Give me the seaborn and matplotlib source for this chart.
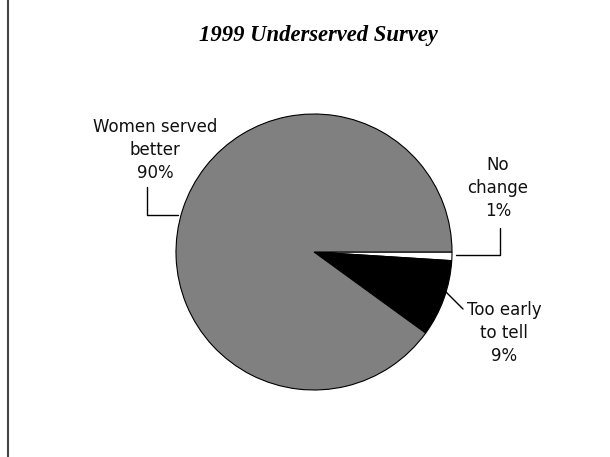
import matplotlib
matplotlib.use("Agg")
import matplotlib.pyplot as plt
import seaborn as sns

sns.set_theme(style="white")
plt.rcParams['font.family'] = ['DejaVu Sans']

# Survey responses, listed clockwise from 3 o'clock
categories = ["No\nchange", "Too early\nto tell", "Women served\nbetter"]
shares = [1, 9, 90]
colors = ["#ffffff", "#000000", "#808080"]

W, H = 610, 457
fig = plt.figure(figsize=(W / 100, H / 100), dpi=100)
ax = fig.add_axes([0, 0, 1, 1])

cx, cy, r = 314, H - 252, 138
ax.pie(shares, colors=colors, startangle=0, counterclock=False,
       center=(cx, cy), radius=r, frame=True,
       wedgeprops=dict(edgecolor="black", linewidth=0.8))
ax.set_xlim(0, W)
ax.set_ylim(0, H)
ax.set_aspect("equal")
ax.axis("off")

labels = [f"{c}\n{v}%" for c, v in zip(categories, shares)]
lab_font = dict(fontsize=12, ha="center", va="center", color="#111111",
                linespacing=1.33)

# No change
ax.text(498, H - 188, labels[0], **lab_font)
ax.plot([456, 500, 500], [H - 255, H - 255, H - 228], color="black", lw=1)
# Too early to tell
ax.text(504, H - 333, labels[1], **lab_font)
ax.plot([445, 463], [H - 291, H - 309], color="black", lw=1)
# Women served better
ax.text(155, H - 150, labels[2], **lab_font)
ax.plot([147, 147, 178], [H - 187, H - 215, H - 215], color="black", lw=1)

ax.text(318, H - 36, "1999 Underserved Survey", ha="center", va="center",
        fontsize=16.3, fontweight="bold", fontstyle="italic", color="black",
        family=["Liberation Serif", "DejaVu Serif"])

# Left page rule
ax.plot([8, 8], [0, H], color="#444444", lw=1.5, solid_capstyle="butt")

fig.savefig("out.png", dpi=100)
